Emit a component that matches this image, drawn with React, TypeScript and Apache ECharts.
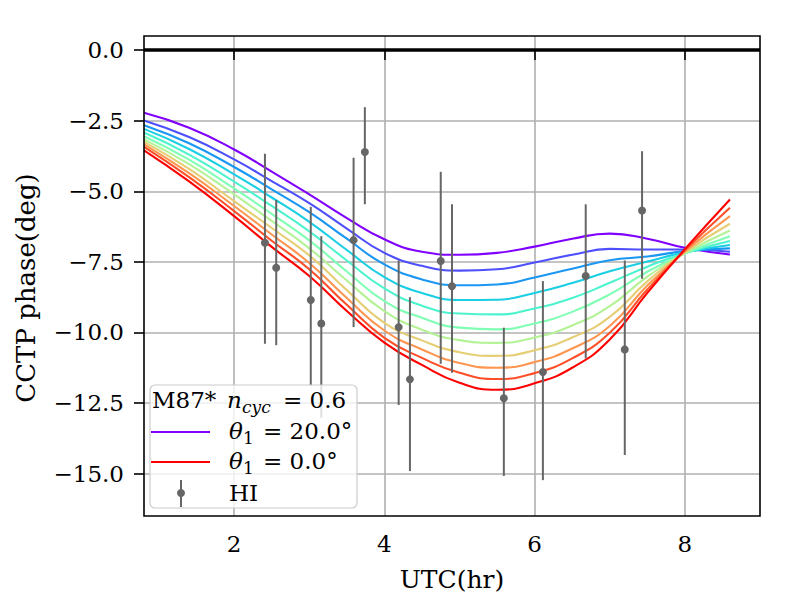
import React, { useEffect, useRef } from "react";
import * as echarts from "echarts";

// ---- data ----
const CURVE_X = [0.8, 1.4, 2.0, 2.5, 3.0, 3.5, 4.0, 4.5, 5.0, 5.5, 6.0, 6.5, 7.0, 7.5, 8.0, 8.6];

const THETA_20 = [-2.22, -2.75, -3.52, -4.30, -5.11, -5.95, -6.70, -7.14, -7.25, -7.18, -6.96, -6.68, -6.50, -6.68, -7.00, -7.24];
const THETA_18 = [-2.49, -3.08, -3.87, -4.64, -5.42, -6.32, -7.18, -7.64, -7.81, -7.76, -7.52, -7.25, -7.04, -7.06, -7.06, -7.14];
const THETA_16 = [-2.66, -3.30, -4.14, -4.93, -5.74, -6.68, -7.59, -8.12, -8.33, -8.30, -8.05, -7.74, -7.44, -7.31, -7.12, -7.02];
const THETA_14 = [-2.79, -3.50, -4.40, -5.22, -6.08, -7.08, -8.04, -8.60, -8.85, -8.84, -8.60, -8.25, -7.83, -7.49, -7.16, -6.90];
const THETA_12 = [-2.92, -3.70, -4.66, -5.52, -6.42, -7.45, -8.44, -9.05, -9.33, -9.36, -9.15, -8.78, -8.24, -7.67, -7.19, -6.76];
const THETA_10 = [-3.05, -3.88, -4.90, -5.80, -6.74, -7.84, -8.89, -9.48, -9.83, -9.89, -9.68, -9.27, -8.65, -7.85, -7.20, -6.59];
const THETA_8 = [-3.16, -4.04, -5.11, -6.05, -7.02, -8.16, -9.24, -9.90, -10.27, -10.37, -10.18, -9.75, -9.07, -8.02, -7.19, -6.39];
const THETA_6 = [-3.25, -4.21, -5.35, -6.30, -7.27, -8.50, -9.66, -10.28, -10.70, -10.83, -10.63, -10.18, -9.45, -8.19, -7.16, -6.15];
const THETA_4 = [-3.34, -4.36, -5.52, -6.53, -7.54, -8.78, -9.93, -10.60, -11.08, -11.25, -11.05, -10.57, -9.77, -8.34, -7.13, -5.88];
const THETA_2 = [-3.43, -4.50, -5.70, -6.75, -7.76, -9.02, -10.19, -10.90, -11.43, -11.65, -11.44, -10.92, -10.01, -8.48, -7.09, -5.58];
const THETA_0 = [-3.55, -4.65, -5.88, -6.97, -8.00, -9.24, -10.36, -11.15, -11.78, -12.03, -11.80, -11.25, -10.25, -8.60, -7.05, -5.29];

const CURVES = [THETA_20, THETA_18, THETA_16, THETA_14, THETA_12, THETA_10, THETA_8, THETA_6, THETA_4, THETA_2, THETA_0];
const CURVE_NAMES = ["θ1 = 20.0°", "θ1 = 18.0°", "θ1 = 16.0°", "θ1 = 14.0°", "θ1 = 12.0°", "θ1 = 10.0°", "θ1 = 8.0°", "θ1 = 6.0°", "θ1 = 4.0°", "θ1 = 2.0°", "θ1 = 0.0°"];

const HI_X = [2.41, 2.56, 3.02, 3.16, 3.59, 3.74, 4.19, 4.34, 4.75, 4.90, 5.59, 6.11, 6.68, 7.20, 7.43];
const HI_Y = [-6.82, -7.71, -8.85, -9.68, -6.73, -3.61, -9.81, -11.66, -7.47, -8.36, -12.33, -11.40, -8.00, -10.60, -5.68];
const HI_HIGH = [-3.67, -5.31, -5.55, -6.59, -3.81, -2.02, -7.45, -8.75, -4.31, -5.46, -9.83, -8.18, -5.46, -7.45, -3.58];
const HI_LOW = [-10.40, -10.45, -11.90, -13.02, -9.81, -5.46, -12.57, -14.91, -11.11, -11.43, -15.08, -15.23, -10.92, -14.34, -8.10];

const X_TICKS = [2, 4, 6, 8];
const Y_TICKS = [0, -2.5, -5, -7.5, -10, -12.5, -15];

// ---- styles ----
const COLORS = ["#8000ff", "#4d4ffc", "#1a96f3", "#1acee3", "#4df3ce", "#80ffb4", "#b3f396", "#e6ce74", "#ff964f", "#ff4f28", "#ff0000"];
const FONT = "DejaVu Serif";
const GRAY = "#666666";

function fmt(v: number) {
  return (v < 0 ? "\u2212" : "") + Math.abs(v).toFixed(1);
}

export default function App() {
  const ref = useRef<HTMLDivElement>(null);

  useEffect(() => {
    if (!ref.current) return;
    const chart = echarts.init(ref.current, undefined, { renderer: "svg" });

    const lineSeries: any[] = CURVES.map((arr, k) => ({
      type: "line",
      name: CURVE_NAMES[k],
      data: CURVE_X.map((x, i) => [x, arr[i]]),
      smooth: 0.5,
      showSymbol: false,
      symbol: "none",
      lineStyle: { color: COLORS[k], width: 2.1 },
      z: 3,
    }));

    lineSeries[0].markLine = {
      silent: true,
      symbol: "none",
      label: { show: false },
      lineStyle: { color: "#000000", width: 3.5, type: "solid" },
      data: [{ yAxis: 0 }],
      z: 4,
    };

    const hiSeries = {
      type: "custom",
      name: "HI",
      data: HI_X.map((x, i) => [x, HI_Y[i], HI_LOW[i], HI_HIGH[i]]),
      encode: { x: 0, y: 1 },
      z: 5,
      renderItem: (params: any, api: any) => {
        const x = api.value(0);
        const p = api.coord([x, api.value(1)]);
        const pl = api.coord([x, api.value(2)]);
        const ph = api.coord([x, api.value(3)]);
        return {
          type: "group",
          children: [
            { type: "line", shape: { x1: pl[0], y1: pl[1], x2: ph[0], y2: ph[1] }, style: { stroke: GRAY, lineWidth: 2 } },
            { type: "circle", shape: { cx: p[0], cy: p[1], r: 4 }, style: { fill: GRAY } },
          ],
        };
      },
    };

    const txt = (x: number, y: number, text: string, size = 23, italic = false) => ({
      type: "text",
      x,
      y,
      z: 101,
      style: {
        text,
        fontFamily: FONT,
        fontSize: size,
        fontStyle: italic ? "italic" : "normal",
        fill: "#000",
        align: "left",
        verticalAlign: "middle",
      },
    });

    const option: any = {
      animation: false,
      backgroundColor: "#ffffff",
      grid: {
        left: 144,
        right: 40,
        top: 36,
        bottom: 84,
        show: true,
        borderColor: "#000000",
        borderWidth: 1.6,
        backgroundColor: "transparent",
        z: 10,
      },
      xAxis: {
        type: "value",
        min: 0.8,
        max: 9.0,
        axisLine: { show: false },
        axisTick: { show: true, customValues: X_TICKS, length: 10, inside: false, lineStyle: { color: "#000", width: 1.6 } },
        axisLabel: {
          customValues: X_TICKS,
          formatter: (v: number) => String(v),
          fontFamily: FONT,
          fontSize: 23,
          color: "#000",
          margin: 16,
        },
        splitLine: { show: true, lineStyle: { color: "#b0b0b0", width: 1.6 } },
      },
      yAxis: {
        type: "value",
        min: -16.5,
        max: 0.5,
        axisLine: { show: false },
        axisTick: { show: true, customValues: Y_TICKS, length: 10, inside: false, lineStyle: { color: "#000", width: 1.6 } },
        axisLabel: {
          customValues: Y_TICKS,
          formatter: (v: number) => fmt(v),
          fontFamily: FONT,
          fontSize: 23,
          color: "#000",
          margin: 20,
        },
        splitLine: { show: true, lineStyle: { color: "#b0b0b0", width: 1.6 } },
      },
      series: [...lineSeries, hiSeries],
      graphic: [
        // axis titles
        {
          type: "text",
          x: 452,
          y: 579,
          style: { text: "UTC(hr)", fontFamily: FONT, fontSize: 25, fill: "#000", align: "center", verticalAlign: "middle" },
        },
        {
          type: "text",
          x: 26,
          y: 288,
          rotation: Math.PI / 2,
          style: { text: "CCTP phase(deg)", fontFamily: FONT, fontSize: 26, fill: "#000", align: "center", verticalAlign: "middle" },
        },
        // legend
        {
          type: "rect",
          z: 100,
          shape: { x: 150, y: 385, width: 207, height: 123, r: 5 },
          style: { fill: "rgba(255,255,255,0.8)", stroke: "#cccccc", lineWidth: 1.2 },
        },
        txt(152, 400, "M87*"),
        txt(227, 400, "n", 23, true),
        txt(242, 407, "cyc", 17, true),
        txt(283, 400, "= 0.6"),
        {
          type: "line",
          z: 101,
          shape: { x1: 151, y1: 432, x2: 210, y2: 432 },
          style: { stroke: COLORS[0], lineWidth: 2.1 },
        },
        txt(229, 431, "θ", 23, true),
        txt(243, 438, "1", 17),
        txt(263, 431, "= 20.0°"),
        {
          type: "line",
          z: 101,
          shape: { x1: 151, y1: 462, x2: 210, y2: 462 },
          style: { stroke: COLORS[10], lineWidth: 2.1 },
        },
        txt(229, 461, "θ", 23, true),
        txt(243, 468, "1", 17),
        txt(263, 461, "= 0.0°"),
        {
          type: "line",
          z: 101,
          shape: { x1: 181, y1: 480, x2: 181, y2: 507 },
          style: { stroke: GRAY, lineWidth: 2 },
        },
        { type: "circle", z: 101, shape: { cx: 181, cy: 493, r: 4 }, style: { fill: GRAY } },
        txt(229, 493, "HI"),
      ],
    };

    chart.setOption(option);
    return () => chart.dispose();
  }, []);

  return <div ref={ref} style={{ position: "absolute", left: 0, top: 0, width: 800, height: 600 }} />;
}
